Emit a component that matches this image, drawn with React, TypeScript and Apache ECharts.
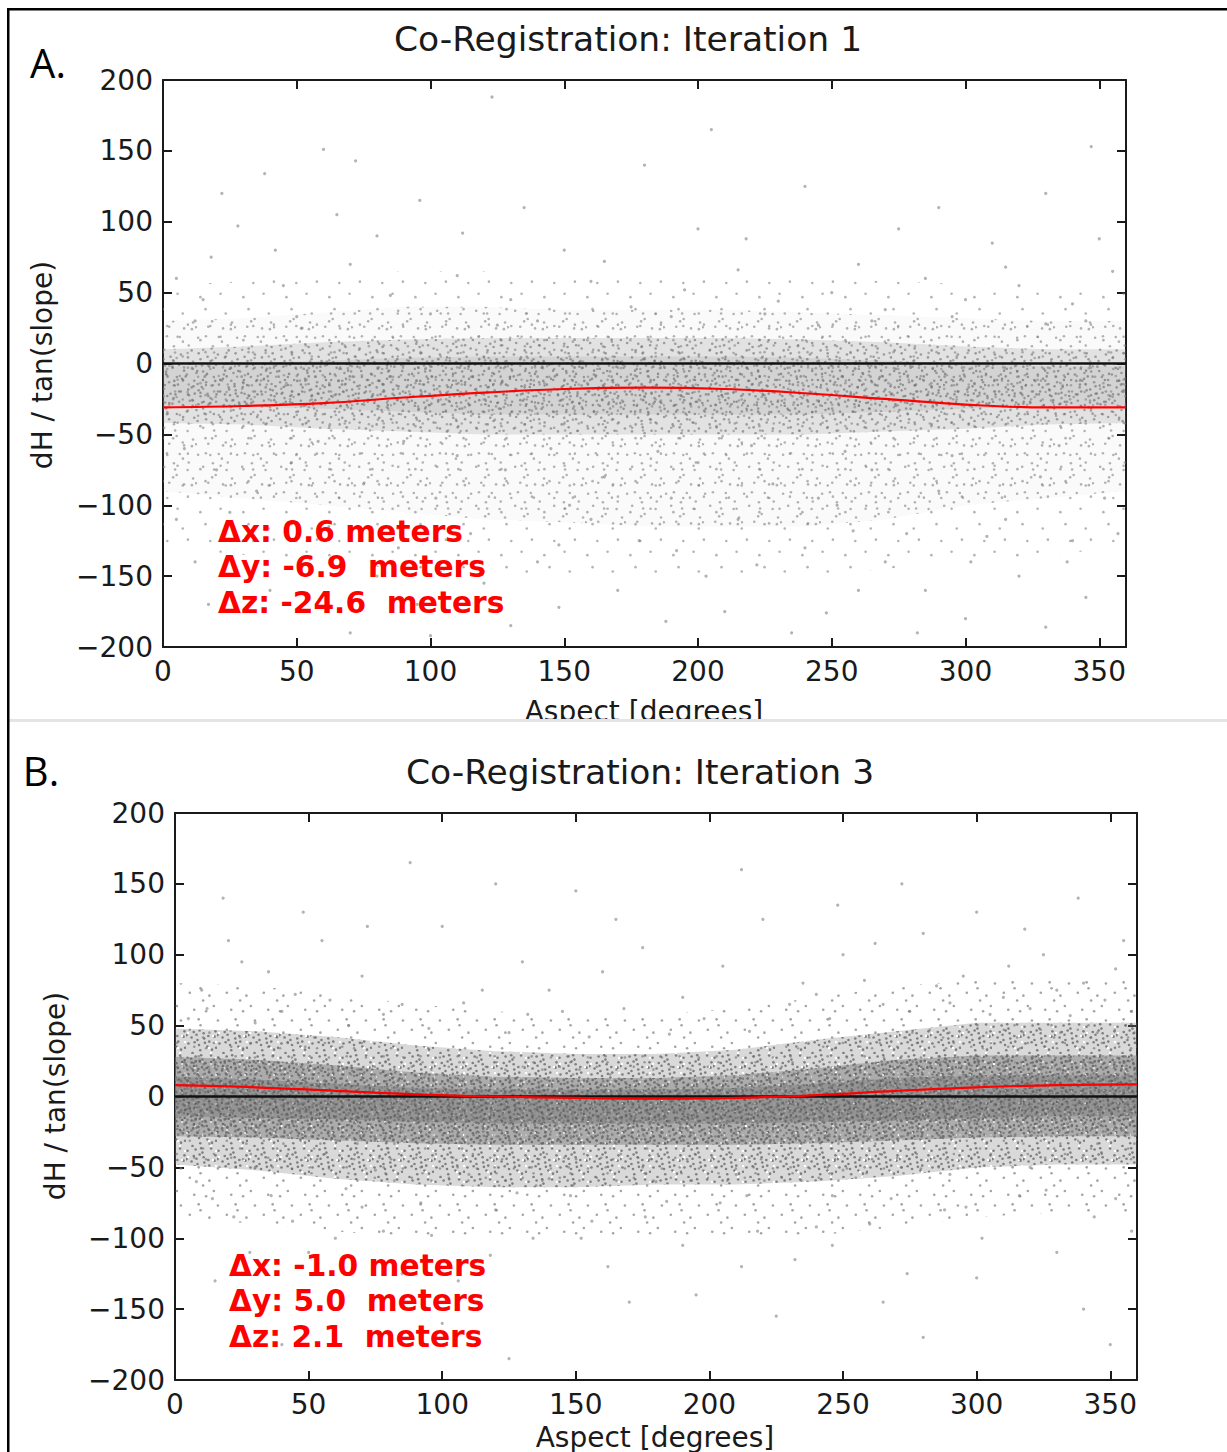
import React, { useEffect, useRef } from 'react';
import * as echarts from 'echarts';

// ---------- data ----------
const ASPECT = [0, 30, 60, 90, 120, 150, 180, 210, 240, 270, 300, 330, 360];

// Panel A: fitted red curve and density bands of the point cloud
const A_CURVE = [-31, -30, -28, -24, -20.5, -18, -17, -18, -21, -25, -29, -31, -31];
const A_FRINGE_HI = [55, 58, 62, 65, 65, 62, 60, 60, 60, 58, 56, 55, 55];
const A_OUT_HI = [30, 32, 36, 40, 40, 38, 38, 38, 36, 34, 32, 30, 30];
const A_CORE_HI = [10, 12, 15, 17, 18, 18, 18, 18, 17, 15, 12, 10, 10];
const A_INNER_HI = [-2, 0, 2, 4, 5, 5, 5, 5, 4, 2, 0, -2, -2];
const A_INNER_LO = [-30, -30, -32, -34, -36, -36, -36, -36, -36, -34, -32, -30, -30];
const A_CORE_LO = [-42, -43, -46, -48, -50, -50, -50, -50, -50, -48, -46, -43, -42];
const A_OUT_LO = [-90, -95, -100, -105, -110, -112, -115, -115, -115, -110, -100, -95, -90];
const A_FRINGE_LO = [-130, -135, -140, -145, -150, -150, -150, -150, -150, -145, -140, -135, -130];
const A_POINTS: [number, number][] = [
  [22, 120], [38, 134], [60, 151], [72, 143], [123, 188], [28, 97], [347, 153], [96, 115], [150, 80], [200, 95],
  [260, 70], [310, 85], [330, 120], [180, 140], [240, 125], [5, 60], [15, 45], [45, 55], [70, 70], [85, 48],
  [110, 62], [130, 45], [160, 58], [175, 40], [195, 52], [215, 66], [230, 44], [250, 50], [270, 38], [285, 60],
  [300, 45], [320, 55], [340, 42], [355, 65], [12, 30], [50, 33], [100, 35], [140, 30], [190, 33], [225, 35],
  [265, 30], [295, 33], [345, 30], [80, 90], [290, 110], [205, 165], [52, 25], [125, 27], [245, 27], [330, 28],
  [8, -60], [20, -75], [35, -90], [48, -70], [62, -115], [75, -85], [88, -130], [102, -95], [115, -120], [128, -75],
  [140, -140], [152, -100], [165, -80], [178, -125], [190, -95], [203, -150], [215, -110], [228, -85], [240, -130], [252, -100],
  [265, -75], [278, -120], [290, -90], [302, -140], [315, -110], [328, -80], [340, -125], [352, -95], [12, -140], [40, -160],
  [95, -170], [130, -185], [170, -160], [210, -175], [260, -160], [300, -180], [345, -165], [25, -105], [58, -55], [110, -65],
  [145, -60], [185, -62], [220, -58], [255, -62], [295, -65], [335, -58], [70, -190], [235, -190], [320, -150], [120, -155],
  [5, -110], [357, -120], [285, -160], [200, -70], [160, -110], [90, -55], [245, -95], [270, -140],
  [18, 75], [65, 105], [135, 110], [165, 72], [218, 88], [275, 95], [315, 68], [350, 88], [42, 80], [112, 92],
  [30, -125], [55, -138], [80, -150], [105, -145], [148, -128], [192, -132], [222, -142], [258, -118], [308, -122], [338, -140],
  [17, -170], [62, -172], [148, -172], [188, -182], [248, -176], [282, -190], [330, -186], [100, -192]
];

// Panel B
const B_CURVE = [8, 6.5, 4, 1.5, 0, -1, -1.5, -1, 1, 4, 6.5, 8, 8.5];
const B_FRINGE_HI = [80, 78, 72, 65, 60, 58, 58, 62, 70, 78, 82, 82, 82];
const B_OUT_HI = [48, 46, 42, 36, 32, 30, 30, 33, 40, 46, 52, 52, 52];
const B_CORE_HI = [28, 26, 22, 17, 14, 13, 13, 15, 20, 26, 29, 29, 29];
const B_INNER_HI = [14, 12, 9, 6, 5, 5, 5, 6, 9, 13, 15, 15, 15];
const B_INNER_LO = [-14, -15, -16, -18, -19, -19, -19, -19, -18, -17, -15, -14, -14];
const B_CORE_LO = [-28, -29, -31, -33, -34, -34, -34, -34, -33, -31, -29, -28, -28];
const B_OUT_LO = [-48, -52, -58, -62, -64, -64, -62, -62, -60, -56, -50, -48, -48];
const B_FRINGE_LO = [-85, -90, -95, -100, -100, -100, -100, -100, -98, -92, -85, -82, -82];
const B_POINTS: [number, number][] = [
  [10, 75], [25, 95], [40, 60], [55, 110], [70, 85], [85, 65], [100, 120], [115, 75], [130, 95], [145, 60],
  [160, 88], [175, 105], [190, 70], [205, 92], [220, 125], [235, 80], [250, 100], [265, 65], [280, 115], [295, 85],
  [310, 70], [325, 100], [340, 80], [355, 110], [18, 140], [88, 165], [150, 145], [212, 160], [272, 150], [338, 140],
  [48, 130], [120, 150], [248, 135], [300, 130], [5, 55], [30, 52], [65, 50], [95, 48], [125, 45], [155, 42],
  [185, 44], [215, 46], [245, 55], [275, 60], [305, 58], [335, 57], [358, 60], [45, 72], [140, 75], [230, 65],
  [285, 78], [320, 62],
  [8, -60], [22, -85], [36, -70], [50, -110], [64, -65], [78, -95], [92, -75], [106, -130], [120, -80], [134, -100],
  [148, -70], [162, -120], [176, -85], [190, -105], [204, -75], [218, -95], [232, -115], [246, -70], [260, -90], [274, -125],
  [288, -80], [302, -100], [316, -70], [330, -110], [344, -85], [358, -95], [15, -130], [60, -150], [100, -160], [170, -145],
  [225, -155], [280, -170], [340, -150], [110, -55], [140, -58], [180, -60], [210, -55], [250, -52], [30, -50], [75, -52],
  [290, -55], [320, -50], [85, -125], [195, -140], [265, -145], [125, -185], [350, -175], [40, -175],
  [12, 62], [35, 88], [58, 68], [78, 58], [108, 66], [132, 58], [168, 62], [198, 55], [240, 72], [258, 82],
  [290, 66], [312, 92], [330, 75], [348, 68], [20, 110], [72, 120], [165, 125], [262, 108], [318, 118], [352, 90],
  [14, -72], [44, -88], [70, -78], [96, -98], [128, -68], [156, -88], [184, -74], [214, -70], [240, -92], [268, -72],
  [296, -78], [326, -66], [352, -72], [28, -110], [118, -112], [212, -120], [300, -128], [60, -100], [152, -100], [246, -105]
];

const ZERO = [0, 0];
const ZERO_X = [0, 360];
const X_TICKS = [0, 50, 100, 150, 200, 250, 300, 350];
const Y_TICKS = [-200, -150, -100, -50, 0, 50, 100, 150, 200];

const PANEL_TITLES = ['Co-Registration: Iteration 1', 'Co-Registration: Iteration 3'];
const PANEL_LETTERS = ['A.', 'B.'];
const A_NOTES = ['\u0394x: 0.6 meters', '\u0394y: -6.9  meters', '\u0394z: -24.6  meters'];
const B_NOTES = ['\u0394x: -1.0 meters', '\u0394y: 5.0  meters', '\u0394z: 2.1  meters'];

// fixed speckle texture layout (style only, fractions of a tile)
const TEXTURE = [
  [0.05, 0.12], [0.18, 0.47], [0.31, 0.08], [0.42, 0.71], [0.57, 0.33], [0.66, 0.91], [0.78, 0.19], [0.89, 0.58],
  [0.13, 0.83], [0.25, 0.29], [0.37, 0.55], [0.49, 0.04], [0.61, 0.64], [0.72, 0.42], [0.84, 0.86], [0.95, 0.27],
  [0.08, 0.66], [0.21, 0.97], [0.34, 0.38], [0.46, 0.88], [0.53, 0.18], [0.69, 0.76], [0.81, 0.05], [0.92, 0.44],
  [0.02, 0.39], [0.28, 0.62], [0.44, 0.24], [0.59, 0.5], [0.75, 0.6], [0.97, 0.8],
];

const FONT = '"DejaVu Sans", sans-serif';
const AX = '#1a1a1a';

function fmtY(v: number) {
  return v < 0 ? '\u2212' + Math.abs(v) : String(v);
}

function makeTile(size: number, n: number, bg: number, dot: string, holes: number, offset: number) {
  const c = document.createElement('canvas');
  c.width = size;
  c.height = size;
  const ctx = c.getContext('2d');
  if (ctx) {
    ctx.fillStyle = `rgba(128,128,128,${bg})`;
    ctx.fillRect(0, 0, size, size);
    for (let i = 0; i < n; i++) {
      const [fx, fy] = TEXTURE[(i + offset) % TEXTURE.length];
      ctx.fillStyle = dot;
      ctx.beginPath();
      ctx.arc(fx * size, fy * size, 1.3, 0, Math.PI * 2);
      ctx.fill();
    }
    for (let i = 0; i < holes; i++) {
      const [fx, fy] = TEXTURE[(i * 3 + 1) % TEXTURE.length];
      ctx.clearRect(((fy + 0.37) % 1) * size, ((fx + 0.21) % 1) * size, 2, 2);
    }
  }
  return { image: c, repeat: 'repeat', imageWidth: size, imageHeight: size };
}

function axes(gridIndex: number) {
  const common = {
    gridIndex,
    type: 'value',
    splitLine: { show: false },
    axisLine: { show: true, onZero: false, lineStyle: { color: AX, width: 2 } },
    axisTick: { show: true, inside: true, length: 9, lineStyle: { color: AX, width: 2 } },
  };
  const xLabel = {
    show: true, fontSize: 28, fontFamily: FONT, color: AX, margin: 10, showMaxLabel: false,
    formatter: (v: number) => (X_TICKS.includes(v) ? String(v) : ''),
  };
  const yLabel = {
    show: true, fontSize: 28, fontFamily: FONT, color: AX, margin: 10,
    formatter: (v: number) => (Y_TICKS.includes(v) ? fmtY(v) : ''),
  };
  const xs = [
    { ...common, min: 0, max: 360, interval: 50, position: 'bottom', axisLabel: xLabel },
    { ...common, min: 0, max: 360, interval: 50, position: 'top', axisLabel: { show: false } },
  ];
  const ys = [
    { ...common, min: -200, max: 200, interval: 50, position: 'left', axisLabel: yLabel },
    { ...common, min: -200, max: 200, interval: 50, position: 'right', axisLabel: { show: false } },
  ];
  return { xs, ys };
}

function band(xi: number, yi: number, lo: number[], hi: number[], fill: any) {
  return {
    type: 'custom',
    xAxisIndex: xi,
    yAxisIndex: yi,
    silent: true,
    clip: true,
    z: 1,
    data: [[ASPECT[0], lo[0]]],
    renderItem: (_p: any, api: any) => {
      const pts: number[][] = [];
      for (let i = 0; i < ASPECT.length; i++) pts.push(api.coord([ASPECT[i], hi[i]]));
      for (let i = ASPECT.length - 1; i >= 0; i--) pts.push(api.coord([ASPECT[i], lo[i]]));
      return { type: 'polygon', shape: { points: pts }, style: { fill } };
    },
  };
}

function panelSeries(xi: number, yi: number, p: any) {
  return [
    ...p.bands.map((bd: any, i: number) => band(xi, yi, bd[0], bd[1], p.tiles[i])),
    {
      type: 'scatter', xAxisIndex: xi, yAxisIndex: yi, silent: true, z: 2,
      symbolSize: 3.2, itemStyle: { color: 'rgba(120,120,120,0.7)' },
      data: p.points,
    },
    {
      type: 'line', xAxisIndex: xi, yAxisIndex: yi, silent: true, z: 3, symbol: 'none',
      lineStyle: { color: '#111', width: 2.5 },
      data: ZERO_X.map((x, i) => [x, ZERO[i]]),
    },
    {
      type: 'line', xAxisIndex: xi, yAxisIndex: yi, silent: true, z: 4, symbol: 'none', smooth: 0.4,
      lineStyle: { color: '#ff0000', width: 2.2 },
      data: ASPECT.map((x, i) => [x, p.curve[i]]),
    },
  ];
}

function txt(text: string, x: number, y: number, size: number, opts: any = {}) {
  return {
    type: 'text', x, y, z: 40, rotation: opts.rotation || 0,
    style: {
      text, fill: opts.fill || AX,
      font: `${opts.weight || 'normal'} ${size}px ${opts.family || FONT}`,
      fontSize: size, fontFamily: opts.family || FONT, fontWeight: opts.weight || 'normal',
      align: opts.align || 'center', textAlign: opts.align || 'center',
      verticalAlign: 'middle', textVerticalAlign: 'middle',
    },
  };
}

export default function App() {
  const ref = useRef<HTMLDivElement>(null);
  useEffect(() => {
    if (!ref.current) return;
    const chart = echarts.init(ref.current, null, { renderer: 'svg' });
    const a = axes(0);
    const b = axes(1);
    const aTiles = [
      makeTile(43, 6, 0, 'rgba(130,130,130,0.6)', 0, 5),
      makeTile(39, 16, 0.04, 'rgba(130,130,130,0.6)', 0, 11),
      makeTile(37, 22, 0.2, 'rgba(115,115,115,0.65)', 0, 0),
      makeTile(41, 24, 0.15, 'rgba(110,110,110,0.65)', 0, 7),
    ];
    const bTiles = [
      makeTile(37, 9, 0, 'rgba(125,125,125,0.7)', 0, 3),
      makeTile(31, 26, 0.3, 'rgba(105,105,105,0.8)', 6, 9),
      makeTile(29, 28, 0.5, 'rgba(100,100,100,0.85)', 8, 2),
      makeTile(33, 30, 0.55, 'rgba(95,95,95,0.85)', 8, 14),
    ];
    const option: any = {
      animation: false,
      backgroundColor: '#ffffff',
      grid: [
        { left: 163, top: 80, width: 963, height: 567 },
        { left: 175, top: 813, width: 962, height: 567 },
      ],
      xAxis: [...a.xs, ...b.xs],
      yAxis: [...a.ys, ...b.ys],
      series: [
        ...panelSeries(0, 0, {
          bands: [
            [A_FRINGE_LO, A_FRINGE_HI], [A_OUT_LO, A_OUT_HI], [A_CORE_LO, A_CORE_HI], [A_INNER_LO, A_INNER_HI],
          ],
          tiles: aTiles, points: A_POINTS, curve: A_CURVE,
        }),
        ...panelSeries(2, 2, {
          bands: [
            [B_FRINGE_LO, B_FRINGE_HI], [B_OUT_LO, B_OUT_HI], [B_CORE_LO, B_CORE_HI], [B_INNER_LO, B_INNER_HI],
          ],
          tiles: bTiles, points: B_POINTS, curve: B_CURVE,
        }),
      ],
      graphic: {
        elements: [
          txt(PANEL_TITLES[0], 628, 39, 34.5),
          txt(PANEL_TITLES[1], 640, 772, 34.5),
          txt(PANEL_LETTERS[0], 48, 62, 40, { family: '"Open Sans", sans-serif', fill: '#000' }),
          txt(PANEL_LETTERS[1], 41, 770, 40, { family: '"Open Sans", sans-serif', fill: '#000' }),
          txt('dH / tan(slope)', 42, 365, 28, { rotation: Math.PI / 2 }),
          txt('dH / tan(slope)', 55, 1096, 28, { rotation: Math.PI / 2 }),
          txt('Aspect [degrees]', 644, 711, 28),
          txt('Aspect [degrees]', 655, 1437, 28),
          ...A_NOTES.map((t, i) => txt(t, 218, 531 + i * 35.5, 29.7, { align: 'left', weight: 'bold', fill: '#ff0000' })),
          ...B_NOTES.map((t, i) => txt(t, 229, 1265 + i * 35.5, 29.7, { align: 'left', weight: 'bold', fill: '#ff0000' })),
          { type: 'rect', z: 50, shape: { x: 9, y: 719, width: 1218, height: 24 }, style: { fill: '#ffffff' } },
          { type: 'rect', z: 51, shape: { x: 9, y: 719, width: 1218, height: 3 }, style: { fill: '#e4e4e4' } },
          { type: 'rect', z: 60, shape: { x: 7, y: 8, width: 1220, height: 2.5 }, style: { fill: '#000' } },
          { type: 'rect', z: 60, shape: { x: 7, y: 8, width: 2.5, height: 1444 }, style: { fill: '#000' } },
        ],
      },
    };
    chart.setOption(option);
    return () => chart.dispose();
  }, []);
  return (
    <div
      ref={ref}
      style={{ position: 'absolute', left: 0, top: 0, width: 1227, height: 1452, background: '#fff' }}
    />
  );
}
